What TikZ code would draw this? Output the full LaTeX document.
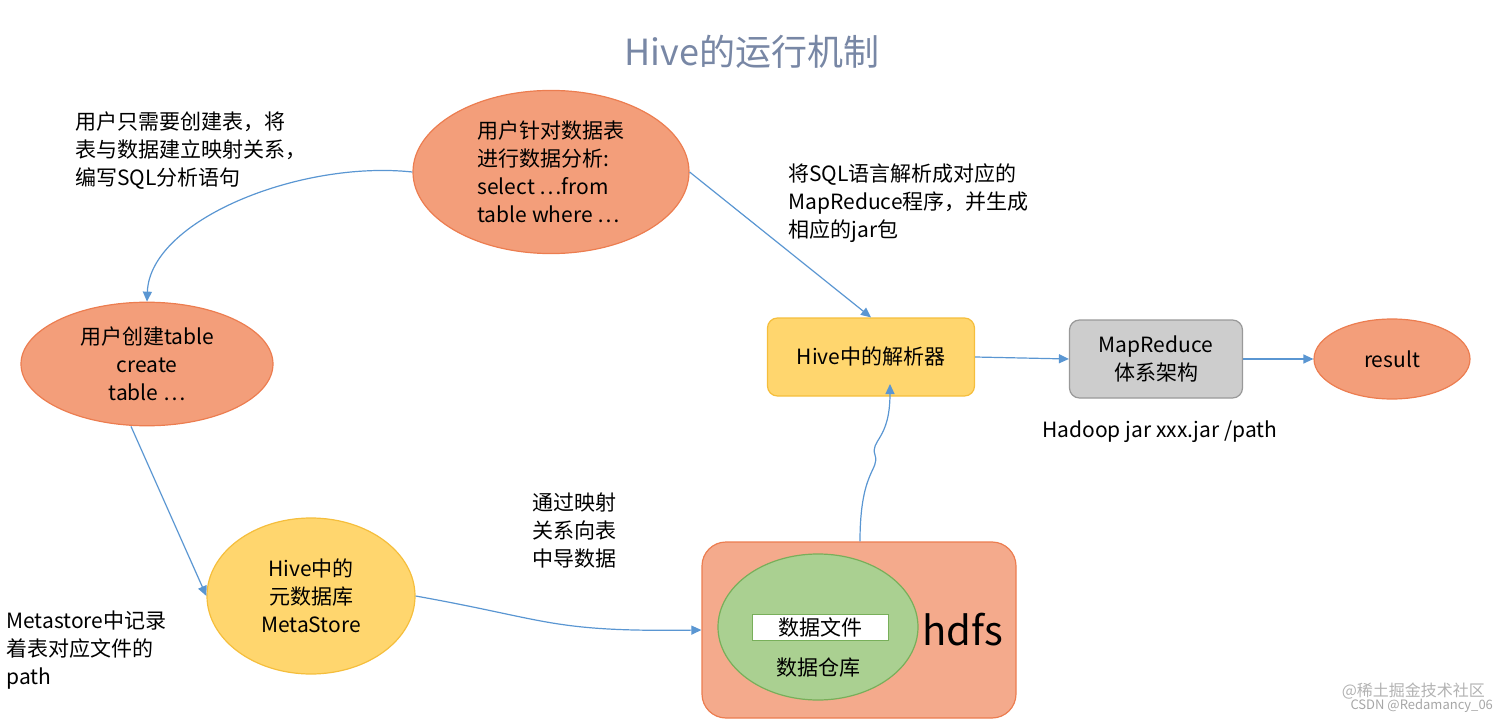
\documentclass[tikz,border=0pt]{standalone}
\usepackage{fontspec}
\setmainfont{Noto Sans CJK SC}
\usetikzlibrary{shapes.geometric,arrows.meta}
\definecolor{sal}{RGB}{243,158,122}
\definecolor{salb}{RGB}{236,125,80}
\definecolor{yel}{RGB}{255,214,110}
\definecolor{yelb}{RGB}{245,190,60}
\definecolor{grn}{RGB}{170,208,145}
\definecolor{grnb}{RGB}{120,175,90}
\definecolor{hd}{RGB}{244,170,140}
\definecolor{gr}{RGB}{205,205,205}
\definecolor{arr}{RGB}{90,150,210}
\begin{document}
\begin{tikzpicture}[x=0.5pt,y=-0.5pt,
 lbl/.style={font=\fontsize{10.5}{14}\selectfont,align=left,anchor=north west,inner sep=0},
 ctr/.style={font=\fontsize{10.5}{14}\selectfont,align=center},
 ell/.style={ellipse,draw=salb,fill=sal,line width=0.6pt},
 con/.style={draw=arr,line width=0.6pt,-{Triangle[length=5pt,width=4.5pt]}}]
\useasboundingbox (0,0) rectangle (1512,722);
\node[font=\fontsize{18}{20}\selectfont,text={rgb,255:red,120;green,135;blue,165}] (title) at (752,52) {Hive的运行机制};
\node[ell,minimum width=276pt*0.5,minimum height=130pt*0.5,ctr,align=left] (q) at (551,172) {用户针对数据表\\进行数据分析:\\select …from\\table where …};
\node[lbl] (t1) at (75,111) {用户只需要创建表，将\\表与数据建立映射关系，\\编写SQL分析语句};
\node[ell,minimum width=126pt,minimum height=58pt,ctr] (c) at (147,364) {用户创建table\\create\\table …};
\node[ellipse,draw=yelb,fill=yel,line width=0.6pt,minimum width=104pt,minimum height=78pt,ctr] (m) at (311,596) {Hive中的\\元数据库\\MetaStore};
\node[lbl] (t2) at (6,610) {Metastore中记录\\着表对应文件的\\path};
\node[lbl] (t3) at (532,492) {通过映射\\关系向表\\中导数据};
\node[draw=salb,fill=hd,rounded corners=12pt,line width=0.6pt,minimum width=157pt,minimum height=88pt] (h) at (859,630) {};
\node[ellipse,draw=grnb,fill=grn,line width=0.6pt,minimum width=100pt,minimum height=73pt] (g) at (818,627) {};
\node[draw=grnb,fill=white,minimum width=68pt,minimum height=13pt,inner sep=0,ctr] (f) at (820,627) {数据文件};
\node[ctr] (w) at (818,668) {数据仓库};
\node[font=\fontsize{20}{22}\selectfont] (hl) at (963,630) {hdfs};
\node[lbl] (t4) at (788,163) {将SQL语言解析成对应的\\MapReduce程序，并生成\\相应的jar包};
\node[draw=yelb,fill=yel,rounded corners=5pt,line width=0.6pt,minimum width=103.5pt,minimum height=39pt,ctr] (p) at (871,357) {Hive中的解析器};
\node[draw=gray!80,fill=gr,rounded corners=5pt,line width=0.6pt,minimum width=86.5pt,minimum height=39pt,ctr] (mr) at (1156,359) {MapReduce\\体系架构};
\node[ell,minimum width=78pt,minimum height=40pt,ctr] (r) at (1392,359) {result};
\node[lbl] (t5) at (1042,420) {Hadoop jar xxx.jar /path};
\node[font=\fontsize{8}{9}\selectfont,text=gray!60,anchor=east] (wm1) at (1492,691) {@稀土掘金技术社区};
\node[font=\fontsize{6.5}{7}\selectfont,text=gray!70,anchor=east] (wm2) at (1500,706) {CSDN @Redamancy\_06};
\draw[con] (q.west) .. controls (300,160) and (150,220) .. (c.north);
\draw[con] (q.east) -- (p.north);
\draw[con] ([xshift=-8pt]c.south) -- (m.west);
\draw[con] (m.east) .. controls (550,620) and (550,632) .. (h.west);
\draw[con] (h.north) ++(1,0) .. controls (860,470) and (880,470) .. (875,455) .. controls (870,440) and (890,440) .. (890,384);
\draw[con] (p.east) -- (mr.west);
\draw[con] (mr.east) -- (r.west);
\end{tikzpicture}
\end{document}
